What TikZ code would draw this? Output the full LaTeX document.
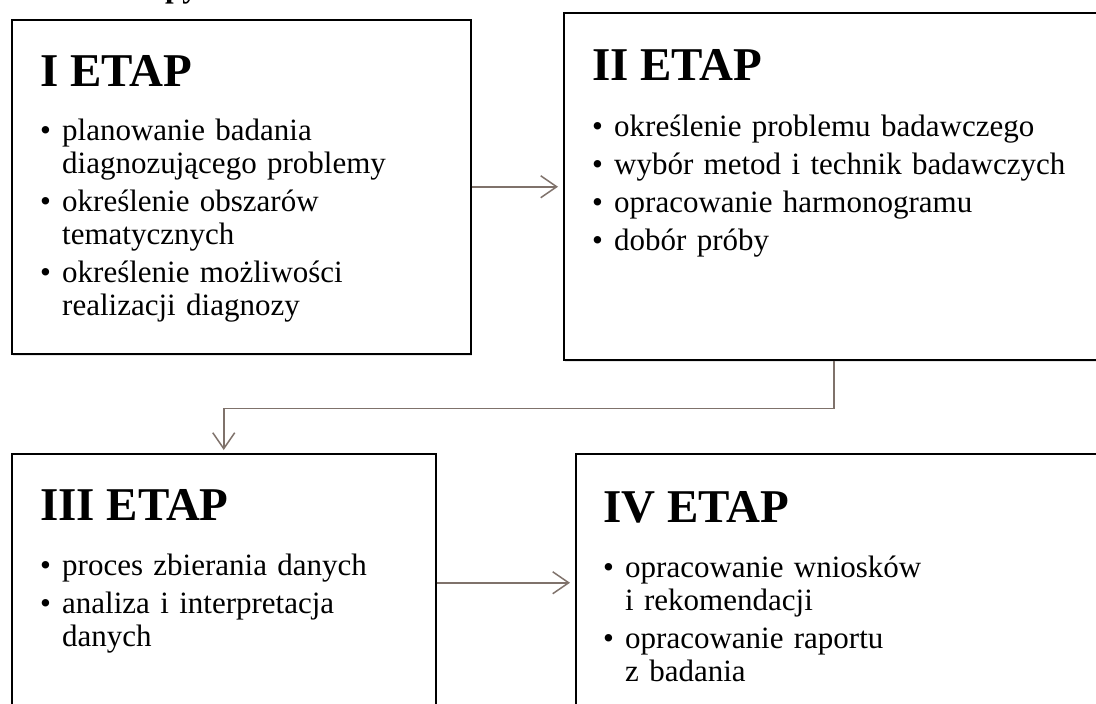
\documentclass[tikz,border=0pt]{standalone}
\usepackage{fontspec}
\setmainfont{Liberation Serif}
\usetikzlibrary{arrows.meta,shadows}
\definecolor{strzalka}{RGB}{127,114,107}
\newcommand{\pkt}[1]{\par\hangindent=22pt\hangafter=1\noindent\strut\makebox[22pt][l]{\textbullet}#1\par}
\tikzset{
  etapbox/.style={draw=black,line width=1.5pt,fill=white,anchor=north west,inner sep=0pt,
    drop shadow={shadow xshift=1.5pt,shadow yshift=-2pt,opacity=.2}},
  etaptitle/.style={anchor=base west,inner sep=0pt,font=\fontsize{47}{56}\selectfont\bfseries},
  etaptext/.style={anchor=north west,inner sep=0pt,text width=480pt,align=left,
    font=\fontsize{31}{33}\selectfont},
  polacz/.style={draw=strzalka,line width=1.5pt,-{Straight Barb[length=16pt,width=22pt]},shorten >=5pt}
}
\begin{document}
\begin{tikzpicture}[x=1pt,y=-1pt]
\useasboundingbox (0,0) rectangle (1096,704);
% cut-off heading
\node[anchor=base west,inner sep=0pt,font=\fontsize{31}{33}\selectfont\bfseries] (naglowek) at (165,-2) {py};
% boxes
\node[etapbox,minimum width=459pt,minimum height=334pt] (b1) at (11,19) {};
\node[etapbox,minimum width=540pt,minimum height=347pt] (b2) at (563,12) {};
\node[etapbox,minimum width=424pt,minimum height=258pt] (b3) at (11,453) {};
\node[etapbox,minimum width=540pt,minimum height=258pt] (b4) at (575,453) {};
% titles
\node[etaptitle] (t1) at (40,86) {I ETAP};
\node[etaptitle] (t2) at (592,80) {II ETAP};
\node[etaptitle] (t3) at (40,520) {III ETAP};
\node[etaptitle] (t4) at (603,522) {IV ETAP};
% bullet lists
\node[etaptext] (l1) at (40,102) {\setlength{\parskip}{5pt}%
  \pkt{planowanie badania\newline diagnozującego problemy}%
  \pkt{określenie obszarów\newline tematycznych}%
  \pkt{określenie możliwości\newline realizacji diagnozy}};
\node[etaptext] (l2) at (592,98) {\setlength{\parskip}{5pt}%
  \pkt{określenie problemu badawczego}%
  \pkt{wybór metod i technik badawczych}%
  \pkt{opracowanie harmonogramu}%
  \pkt{dobór próby}};
\node[etaptext] (l3) at (40,537) {\setlength{\parskip}{5pt}%
  \pkt{proces zbierania danych}%
  \pkt{analiza i interpretacja\newline danych}};
\node[etaptext] (l4) at (603,539) {\setlength{\parskip}{5pt}%
  \pkt{opracowanie wniosków\newline i rekomendacji}%
  \pkt{opracowanie raportu\newline z badania}};
% connectors
\draw[polacz] (b1.east) -- (b1.east -| b2.west);
\draw[polacz,shorten >=3pt] (b2.south) -- ++(0,48) -| (b3.north);
\draw[polacz] (b3.east) -- (b4.west);
\end{tikzpicture}
\end{document}
